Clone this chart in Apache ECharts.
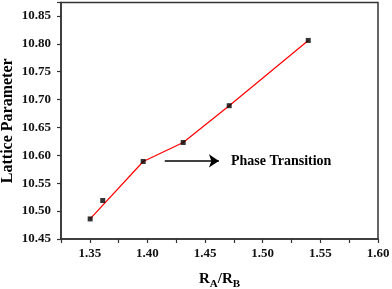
<!DOCTYPE html>
<html>
<head>
<meta charset="utf-8">
<script src="https://cdn.jsdelivr.net/npm/echarts@6/dist/echarts.min.js"></script>
<style>html,body{margin:0;padding:0;background:#fff;}#c{width:392px;height:289px;}</style>
</head>
<body>
<div id="c"></div>
<script>
// Measured points (R_A/R_B, lattice parameter)
var ratios = [1.3503, 1.3612, 1.3963, 1.4310, 1.4709, 1.5395];
var lattice = [10.486, 10.519, 10.589, 10.623, 10.689, 10.806];
// indices of points joined by the red line
var lineIdx = [0, 2, 3, 4, 5];
// axis settings
var xMin = 1.325, xMax = 1.60, xTickStep = 0.025, xLabelStep = 0.05;
var yMin = 10.45, yMax = 10.874, yStep = 0.05;
// Phase transition arrow (data coords)
var arrowStart = [1.415, 10.59];
var arrowEnd = [1.462, 10.59];
var arrowText = 'Phase Transition';

var font = 'Liberation Serif';
var points = ratios.map(function (x, i) { return [x, lattice[i]]; });
var linePts = lineIdx.map(function (i) { return points[i]; });

function onStep(v, step) {
  var r = v / step;
  return Math.abs(r - Math.round(r)) < 1e-6;
}

var chart = echarts.init(document.getElementById('c'), null, {renderer: 'canvas'});
chart.setOption({
  animation: false,
  backgroundColor: '#fff',
  grid: {left: 61, right: 14, top: 2.5, bottom: 50, show: true, borderColor: '#333', borderWidth: 1.5,
    backgroundColor: 'transparent', containLabel: false, outerBoundsMode: 'none', z: 0},
  xAxis: {
    type: 'value', min: xMin, max: xMax, interval: xTickStep, z: 5,
    name: '{m|R}{s|A}{m|/R}{s|B}', nameLocation: 'middle', nameGap: 29, nameMoveOverlap: false,
    nameTextStyle: {
      rich: {
        m: {fontFamily: font, fontWeight: 'bold', fontSize: 15, color: '#000', lineHeight: 22},
        s: {fontFamily: font, fontWeight: 'bold', fontSize: 11, color: '#000', lineHeight: 11, verticalAlign: 'bottom'}
      }
    },
    axisLine: {show: true, lineStyle: {color: '#333', width: 1.5}},
    axisTick: {show: true, inside: false, length: 4, lineStyle: {color: '#333', width: 1.2}},
    axisLabel: {margin: 8, fontFamily: font, fontWeight: 'bold', fontSize: 13, color: '#111', hideOverlap: false,
      showMinLabel: true, showMaxLabel: true,
      formatter: function (v) { return onStep(v, xLabelStep) ? v.toFixed(2) : ''; }},
    splitLine: {show: false}
  },
  yAxis: {
    type: 'value', min: yMin, max: yMax, interval: yStep, z: 5,
    name: 'Lattice Parameter', nameLocation: 'middle', nameGap: 45, nameMoveOverlap: false,
    nameTextStyle: {fontFamily: font, fontWeight: 'bold', fontSize: 16, color: '#000'},
    axisLine: {show: true, lineStyle: {color: '#333', width: 1.5}},
    axisTick: {show: true, inside: false, length: 4, lineStyle: {color: '#333', width: 1.2}},
    axisLabel: {margin: 10, fontFamily: font, fontWeight: 'bold', fontSize: 13, color: '#111', hideOverlap: false,
      formatter: function (v) { return onStep(v, yStep) ? v.toFixed(2) : ''; }},
    splitLine: {show: false}
  },
  series: [
    {
      type: 'line', data: linePts, symbol: 'none', z: 2,
      lineStyle: {color: '#ff0000', width: 1.2},
      markLine: {
        silent: true, symbol: ['none', 'arrow'], symbolSize: 10,
        lineStyle: {color: '#000', width: 1.5, type: 'solid'},
        label: {show: true, position: 'end', distance: 12, formatter: arrowText,
          fontFamily: font, fontWeight: 'bold', fontSize: 14, color: '#000', padding: [0, 0, 6, 0]},
        data: [[{coord: arrowStart}, {coord: arrowEnd}]]
      }
    },
    {
      type: 'scatter', data: points, symbol: 'rect', symbolSize: 5, z: 3,
      itemStyle: {color: '#000'}
    }
  ]
});
</script>
</body>
</html>
